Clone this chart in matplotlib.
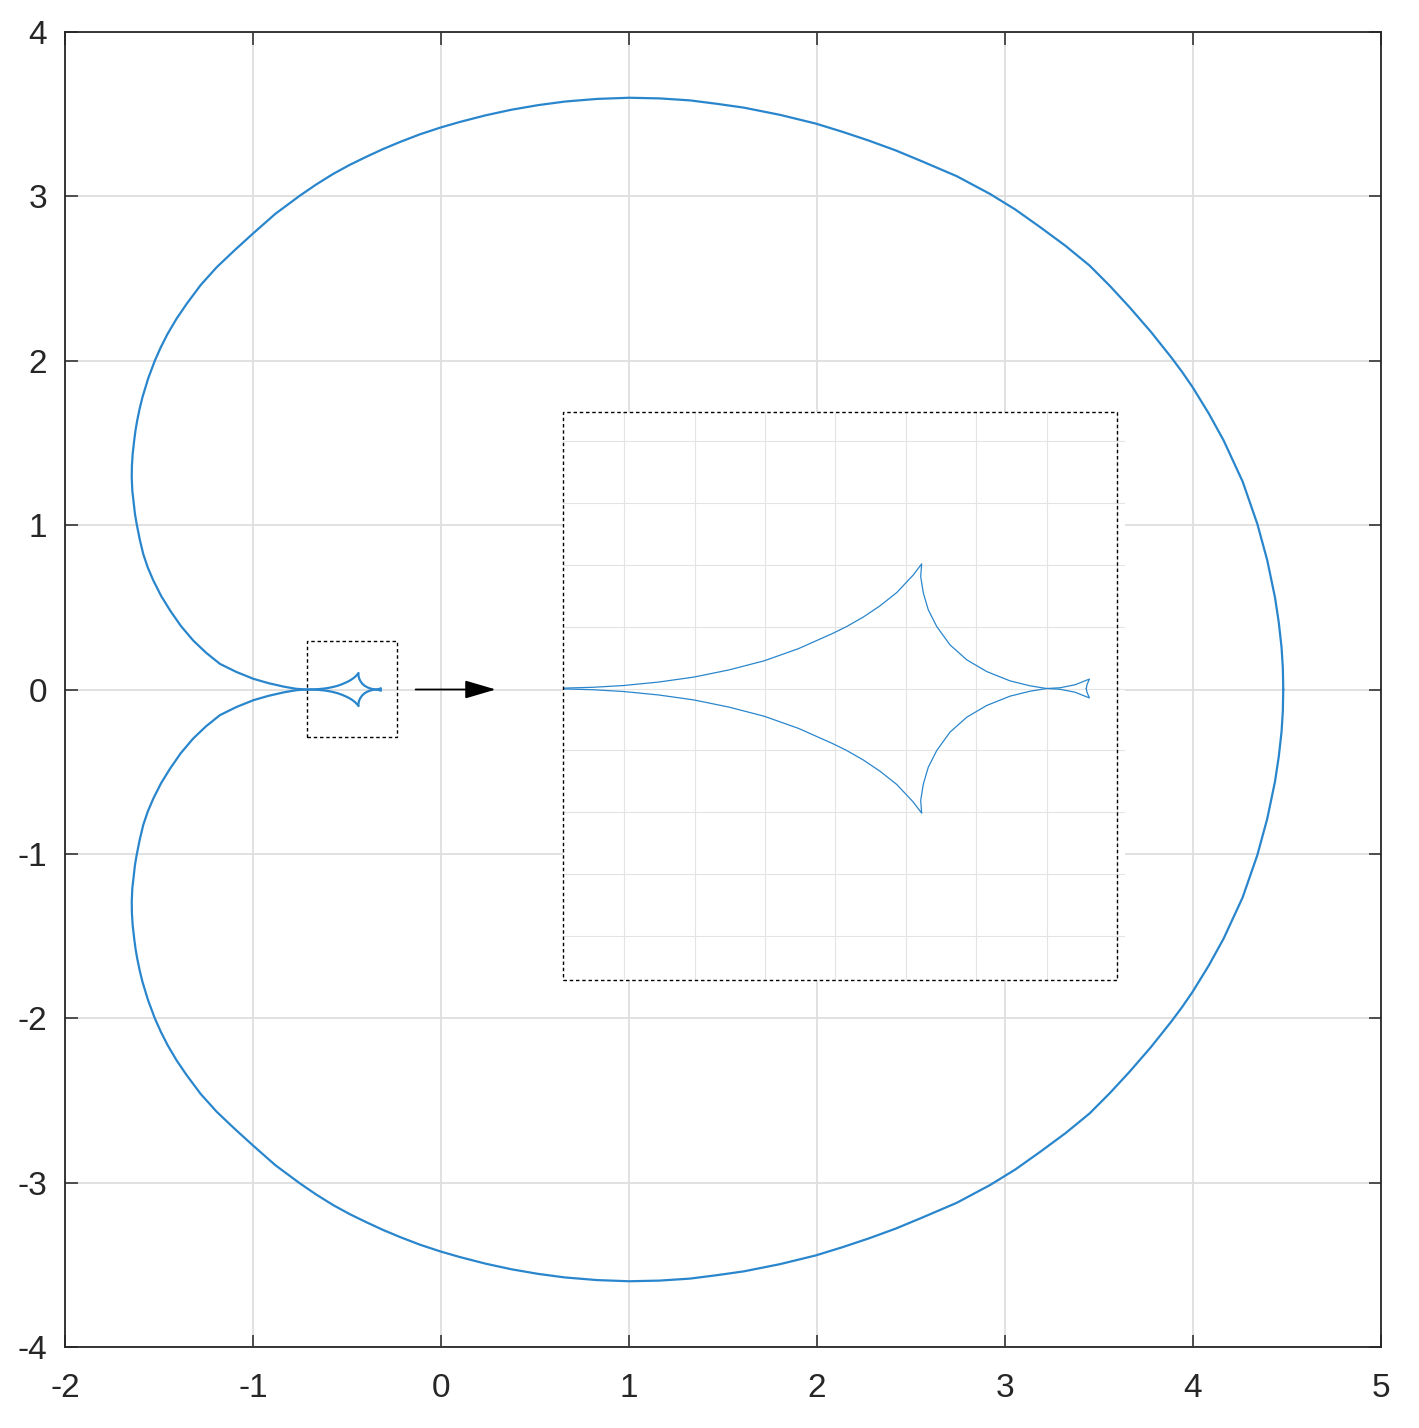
import matplotlib
matplotlib.use("Agg")
import matplotlib.pyplot as plt
from matplotlib.patches import Rectangle

# Upper half of the curve (the lower half is its mirror image)
outer_x = [4.480, 4.478, 4.471, 4.456, 4.436, 4.395, 4.342, 4.264, 4.163, 4.084,
           3.998, 3.942, 3.884, 3.776, 3.663, 3.558, 3.450, 3.322, 3.188, 3.055,
           2.920, 2.743, 2.559, 2.418, 2.274, 2.135, 1.993, 1.803, 1.610, 1.468,
           1.324, 1.163, 1.002, 0.831, 0.660, 0.516, 0.374, 0.237, 0.101, -0.002,
           -0.111, -0.218, -0.308, -0.395, -0.485, -0.573, -0.663, -0.750, -0.881, -1.002,
           -1.100, -1.193, -1.278, -1.353, -1.406, -1.454, -1.490, -1.522, -1.558, -1.588,
           -1.603, -1.616, -1.625, -1.632, -1.640, -1.644, -1.645, -1.642, -1.634, -1.628,
           -1.619, -1.603, -1.584, -1.560, -1.530, -1.489, -1.441, -1.384, -1.318, -1.250,
           -1.176, -1.089, -0.998, -0.919, -0.839, -0.800, -0.768, -0.720]
outer_y = [0.000, 0.128, 0.257, 0.410, 0.561, 0.786, 1.008, 1.265, 1.515, 1.679,
           1.839, 1.932, 2.021, 2.176, 2.325, 2.455, 2.579, 2.699, 2.812, 2.920,
           3.015, 3.123, 3.213, 3.280, 3.340, 3.393, 3.443, 3.496, 3.540, 3.563,
           3.584, 3.596, 3.600, 3.593, 3.577, 3.555, 3.527, 3.493, 3.453, 3.419,
           3.378, 3.331, 3.288, 3.242, 3.192, 3.137, 3.073, 3.005, 2.894, 2.772,
           2.670, 2.569, 2.461, 2.346, 2.257, 2.164, 2.083, 2.001, 1.891, 1.778,
           1.708, 1.636, 1.576, 1.515, 1.434, 1.363, 1.291, 1.210, 1.130, 1.069,
           1.008, 0.916, 0.825, 0.743, 0.663, 0.570, 0.481, 0.387, 0.298, 0.224,
           0.156, 0.107, 0.065, 0.039, 0.018, 0.010, 0.004, 0.000]

inner_x = [-0.6933, -0.6720, -0.6507, -0.6257, -0.6007, -0.5757, -0.5506, -0.5263, -0.5020, -0.4920,
           -0.4803, -0.4684, -0.4565, -0.4447, -0.4388, -0.4395, -0.4376, -0.4341, -0.4281, -0.4187,
           -0.4068, -0.3926, -0.3761, -0.3619, -0.3500, -0.3406, -0.3299, -0.3197, -0.3214, -0.3219]
inner_y = [0.0003, 0.0010, 0.0024, 0.0052, 0.0092, 0.0150, 0.0224, 0.0322, 0.0445, 0.0501,
           0.0577, 0.0668, 0.0775, 0.0918, 0.1007, 0.0905, 0.0771, 0.0636, 0.0501, 0.0353,
           0.0232, 0.0137, 0.0062, 0.0022, 0.0000, 0.0006, 0.0030, 0.0076, 0.0030, 0.0000]

x_ticks = [-2, -1, 0, 1, 2, 3, 4, 5]
y_ticks = [-4, -3, -2, -1, 0, 1, 2, 3, 4]
inset_xticks = [-0.65, -0.60, -0.55, -0.50, -0.45, -0.40, -0.35, -0.30]
inset_yticks = [-0.20, -0.15, -0.10, -0.05, 0.0, 0.05, 0.10, 0.15, 0.20]

LINE = "#2a86cc"
TXT = "#262626"

plt.rcParams["font.family"] = ["Liberation Sans", "DejaVu Sans"]
plt.rcParams["axes.unicode_minus"] = False

W, H = 1419, 1428
fig = plt.figure(figsize=(W / 100, H / 100), dpi=100)

curve_x = outer_x + inner_x
curve_y = outer_y + inner_y
mirror_y = [-v for v in curve_y]

# main axes
ax = fig.add_axes([65 / W, 1 - 1347 / H, 1316 / W, 1315 / H])
ax.plot(curve_x, curve_y, color=LINE, lw=1.6, solid_joinstyle="round")
ax.plot(curve_x, mirror_y, color=LINE, lw=1.6, solid_joinstyle="round")
ax.set_xlim(-2, 5)
ax.set_ylim(-4, 4)
ax.set_xticks(x_ticks)
ax.set_yticks(y_ticks)
ax.grid(True, color="#dedede", lw=1.3)
ax.set_axisbelow(True)
ax.tick_params(direction="in", length=9, width=1.1, top=True, right=True,
               labelsize=24, color=TXT, labelcolor=TXT)
ax.tick_params(axis="x", pad=19)
ax.tick_params(axis="y", pad=13)
for s in ax.spines.values():
    s.set_color(TXT)
    s.set_linewidth(1.3)

# dotted box around the small region
ax.add_patch(Rectangle((-0.7144, -0.290), 0.478, 0.588, fill=False,
                       ec="black", lw=1.0, ls=(0, (2.5, 2))))
# arrow toward the inset
ax.annotate("", xy=(0.291, 0), xytext=(-0.135, 0),
            arrowprops=dict(arrowstyle="-|>,head_length=0.95,head_width=0.28",
                            mutation_scale=20, color="black", lw=1.3,
                            shrinkA=0, shrinkB=0))

# inset zoom
ax_in = fig.add_axes([563 / W, 1 - 980 / H, 562 / W, 568 / H])
ax_in.set_zorder(3)
ax_in.set_facecolor("white")
ax_in.plot(curve_x, curve_y, color=LINE, lw=0.9)
ax_in.plot(curve_x, mirror_y, color=LINE, lw=0.9)
x0, x1 = -0.6935, -0.2944
y0, y1 = -0.2355, 0.2234
ax_in.set_xlim(x0, x1)
ax_in.set_ylim(y0, y1)
ax_in.set_xticks(inset_xticks)
ax_in.set_yticks(inset_yticks)
ax_in.grid(True, color="#e4e4e4", lw=0.8)
ax_in.set_axisbelow(True)
ax_in.tick_params(length=0, labelbottom=False, labelleft=False)
for s in ax_in.spines.values():
    s.set_visible(False)
ax_in.add_patch(Rectangle((x0, y0), -0.30 - x0, y1 - y0, fill=False, ec="black",
                          lw=1.0, ls=(0, (2.5, 2)), clip_on=False, zorder=5))

fig.savefig("out.png", dpi=100)
